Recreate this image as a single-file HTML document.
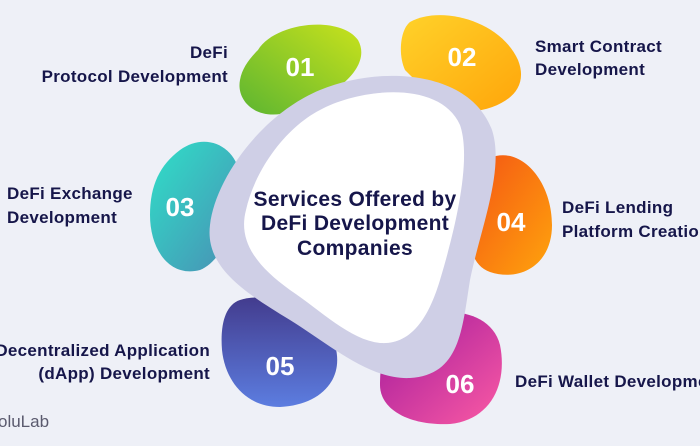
<!DOCTYPE html>
<html><head><style>
body{margin:0;width:700px;height:441px;overflow:hidden;background:#eef0f7;font-family:"Liberation Sans",sans-serif}
</style></head><body>
<svg width="700" height="441" xmlns="http://www.w3.org/2000/svg">
<defs>
<linearGradient id="g1" x1="1" y1="0" x2="0" y2="1"><stop offset="0" stop-color="#c9e21c"/><stop offset="1" stop-color="#5cb531"/></linearGradient>
<linearGradient id="g2" x1="0" y1="0" x2="1" y2="1"><stop offset="0" stop-color="#ffd22a"/><stop offset="1" stop-color="#ffa50a"/></linearGradient>
<linearGradient id="g3" x1="0" y1="0" x2="1" y2="1"><stop offset="0" stop-color="#2fe0c8"/><stop offset="1" stop-color="#4a8db4"/></linearGradient>
<linearGradient id="g4" x1="0" y1="0" x2="1" y2="1"><stop offset="0" stop-color="#f45414"/><stop offset="1" stop-color="#ffa40c"/></linearGradient>
<linearGradient id="g5" x1="0" y1="0" x2="0" y2="1"><stop offset="0" stop-color="#433c8e"/><stop offset="1" stop-color="#5c7de0"/></linearGradient>
<linearGradient id="g6" x1="0" y1="0" x2="1" y2="1"><stop offset="0" stop-color="#a0199c"/><stop offset="1" stop-color="#fb5aa4"/></linearGradient>
</defs>
<path d="M258 50 C275 22,340 15,358 40 C372 65,340 95,290 112 C255 122,236 100,240 80 C242 68,250 58,258 50Z" fill="url(#g1)"/>
<path d="M410 22 C440 5,500 20,518 60 C530 90,505 108,470 112 C440 105,420 85,405 70 C398 55,400 30,410 22Z" fill="url(#g2)"/>
<path d="M180 150 C205 132,235 145,240 175 C245 210,225 260,200 270 C170 278,150 250,150 215 C150 185,160 165,180 150Z" fill="url(#g3)"/>
<path d="M490 158 C520 145,552 180,552 225 C552 265,520 282,490 272 C470 265,468 240,470 220 C472 190,475 165,490 158Z" fill="url(#g4)"/>
<path d="M240 300 C270 290,320 310,335 345 C345 380,320 405,280 407 C245 407,225 380,222 350 C220 325,225 305,240 300Z" fill="url(#g5)"/>
<path d="M400 325 C430 305,490 305,500 345 C508 385,490 420,450 424 C410 426,380 410,380 385 C380 360,385 335,400 325Z" fill="url(#g6)"/>
<path d="M320 90 C380 65,470 70,492 130 C505 170,480 230,470 280 C462 330,460 375,410 378 C370 380,330 345,290 320 C240 290,205 265,210 225 C215 180,260 115,320 90Z" fill="#cfcfe6"/>
<path d="M320 110 C360 88,440 80,460 125 C472 160,455 230,440 280 C428 320,410 345,380 343 C350 340,320 310,290 290 C255 265,238 240,246 210 C255 170,285 128,320 110Z" fill="#fff"/>
<g fill="#fff" font-weight="bold" font-size="26" text-anchor="middle">
<text x="300" y="76">01</text><text x="462" y="66">02</text><text x="180" y="216">03</text>
<text x="511" y="231">04</text><text x="280" y="375">05</text><text x="460" y="393">06</text>
</g>
<g fill="#16164a" font-weight="bold" font-size="21" text-anchor="middle" letter-spacing="0.3">
<text x="355" y="206">Services Offered by</text>
<text x="355" y="230">DeFi Development</text>
<text x="355" y="255">Companies</text>
</g>
<g fill="#16164a" font-weight="bold" font-size="17" letter-spacing="0.3">
<text x="228" y="58" text-anchor="end">DeFi</text>
<text x="228" y="82" text-anchor="end">Protocol Development</text>
<text x="535" y="52">Smart Contract</text>
<text x="535" y="75">Development</text>
<text x="7" y="199">DeFi Exchange</text>
<text x="7" y="223">Development</text>
<text x="562" y="213">DeFi Lending</text>
<text x="562" y="237">Platform Creation</text>
<text x="210" y="356" text-anchor="end">Decentralized Application</text>
<text x="210" y="379" text-anchor="end">(dApp) Development</text>
<text x="515" y="387">DeFi Wallet Development</text>
</g>
<text x="-2" y="427" fill="#5a5a6e" font-size="17">oluLab</text>
</svg>
</body></html>
